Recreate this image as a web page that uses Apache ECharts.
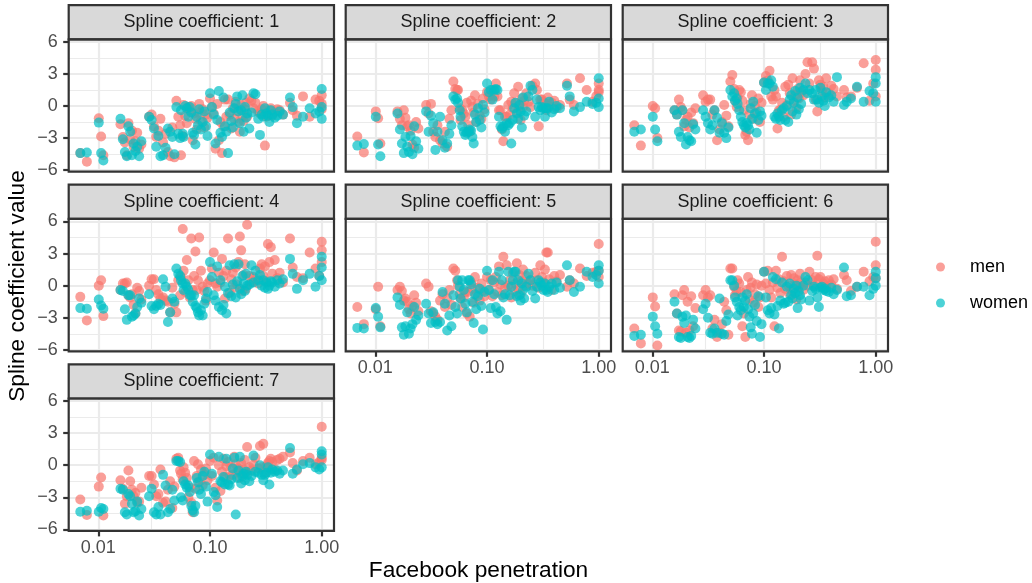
<!DOCTYPE html>
<html>
<head>
<meta charset="utf-8">
<script src="https://cdn.jsdelivr.net/npm/echarts@6/dist/echarts.min.js"></script>
<style>
  html, body { margin: 0; padding: 0; background: #ffffff; }
  #chart { width: 1032px; height: 583px; }
</style>
</head>
<body>
<div id="chart"></div>
<script>
// Facebook penetration of each region (shared by every panel)
const penetration = [
  0.0069, 0.0079,
  0.0101, 0.0106, 0.0111,
  0.0158, 0.0166, 0.0173, 0.018, 0.0186, 0.0193, 0.02, 0.0207, 0.0215, 0.0223, 0.0232, 0.0243,
  0.0285, 0.03, 0.0315, 0.033, 0.0345, 0.036, 0.038, 0.04, 0.042, 0.044, 0.046, 0.048,
  0.05, 0.052, 0.054, 0.055, 0.057, 0.058, 0.06, 0.062, 0.064, 0.066, 0.068, 0.07, 0.072, 0.074, 0.076, 0.078, 0.08, 0.083, 0.086, 0.089, 0.092, 0.095,
  0.1, 0.104, 0.108, 0.112, 0.116, 0.12, 0.124, 0.128, 0.132, 0.136, 0.14, 0.145, 0.15, 0.155, 0.16, 0.165, 0.17, 0.175, 0.18, 0.185, 0.19, 0.195, 0.2, 0.205, 0.21, 0.215,
  0.225, 0.235, 0.245, 0.255, 0.27, 0.28, 0.29, 0.3, 0.31, 0.32, 0.33, 0.34, 0.35, 0.36, 0.38, 0.4, 0.42, 0.45,
  0.52, 0.55, 0.6, 0.68, 0.78, 0.88, 0.95, 1, 1, 1
];

// Spline coefficient values, one array per coefficient and sex
const men1 = [
  -4.4, -5.2,
  -1.15, -2.85, -4.6,
  -1.7, -2.9, -3.4, -4.6, -1.6, -3.1, -2.3, -3.8, -3.3, -2.5, -4.0, -3.6,
  -1.0, -0.8, -1.9, -2.9, -2.3, -1.2, -3.4, -2.6, -4.3, -4.7, -2.0, -4.8,
  0.5, -1.0, -1.8, -4.6, -2.8, 0.1, -0.9, -1.6, -0.1, -0.4, 0.0, -3.2, -0.7, -1.2, -2.2, -0.6, 0.2, -1.4, -0.3, -2.0, -0.8, -1.1,
  0.7, -0.1, -0.7, -4.0, 0.2, -3.2, -1.5, -4.4, -1.9, 0.6, -1.0, 0.6, -0.8, -2.1, -0.2, -1.2, 0.4, -0.5, -1.5, -2.4, 0.1, -0.9, -1.4, -0.3, 0.3, -1.0,
  0.7, 0.5, -0.2, 0.3, -0.5, -0.7, -0.3, 0.0, -3.7, -1.0, -0.8, -0.4, -0.2, -0.9, -0.6, -0.3, -0.4, -0.8,
  0.3, -0.4, -0.9, 0.9, -1.0, 0.6, 0.5, -0.3, 1.0, 0.2
];
const women1 = [
  -4.4, -4.35,
  -1.55, -4.4, -5.1,
  -1.2, -3.1, -4.3, -4.7, -1.9, -2.4, -4.6, -3.5, -4.2, -3.8, -4.7, -3.3,
  -1.0, -1.3, -2.1, -3.8, -2.8, -4.7, -4.6, -3.9, -2.1, -2.4, -2.9, -4.5,
  -0.1, -2.6, -3.0, -0.4, -2.6, -2.9, 0.0, -0.2, -1.0, -0.1, -0.6, -2.5, -2.7, -3.6, -1.0, -1.8, -0.3, -2.2, -1.5, -0.5, -1.9, -2.8,
  1.2, -0.1, -0.8, -3.5, -1.3, 1.4, -2.5, -2.9, 0.8, -1.9, -2.4, -4.4, -0.6, -1.4, -2.0, -0.2, 0.2, 0.9, -0.5, -1.6, -0.4, 1.0, -2.4, -0.1, -1.1, -0.7,
  -2.1, -0.6, 1.2, 1.1, -1.2, -2.7, -0.8, -1.0, -0.2, -0.7, -0.9, -1.5, -0.4, -0.8, -1.1, -0.9, -0.5, -0.8,
  0.8, -0.1, -1.6, -1.0, -0.2, -0.7, -0.5, 1.6, -1.2, -0.1
];
const men2 = [
  -2.85, -4.35,
  -0.5, -1.15, -3.5,
  -0.5, -1.2, -1.8, -0.4, -1.1, -1.9, -1.8, -2.3, -3.6, -3.9, -1.5, -2.1,
  0.1, -0.7, 0.2, -2.4, -2.9, -1.8, -3.2, -3.5, -2.4, -3.8, -1.2, -0.4,
  2.3, 1.6, 1.5, 1.5, -0.2, -1.3, -0.4, -0.7, -1.0, 0.3, -1.8, -2.4, 0.5, -0.1, -0.6, 1.0, -1.5, 0.2, -0.9, -1.2, 0.7, -0.3,
  1.3, 0.9, 0.6, 1.5, 0.9, 2.1, 0.9, -0.4, -0.4, -2.2, -3.3, -1.0, -1.0, 0.1, -0.8, 0.4, -0.2, 1.2, 0.3, -0.6, 1.8, 0.0, -1.3, 0.7, -0.1, 0.5,
  1.2, 0.4, -0.1, 1.9, 2.1, 1.5, -1.9, 0.6, 0.6, 0.4, 0.2, -0.4, 0.8, 0.0, 0.3, 0.5, -0.2, 0.1,
  2.1, 0.6, 0.1, 2.6, 1.5, 0.4, 0.9, 1.3, 2.1, 1.5
];
const women2 = [
  -3.7, -3.55,
  -1.0, -3.6, -4.7,
  -0.7, -2.2, -3.5, -4.4, -2.9, -3.8, -4.3, -2.8, -4.5, -1.9, -3.3, -4.0,
  -0.5, -2.4, -0.9, -1.6, -4.1, -2.4, -1.0, -3.2, -3.9, -3.5, -2.6, -1.8,
  0.9, 0.6, 0.7, 0.3, -0.4, -1.0, -1.9, -2.4, -2.7, -2.5, -2.4, -2.2, -2.3, -2.9, -3.5, -0.8, -1.5, -0.2, -1.3, -2.0, 0.1, -0.6,
  2.1, 1.3, 1.5, 0.6, 1.5, 1.6, 1.5, -1.0, -1.9, -2.1, -1.9, -2.4, -1.6, -1.8, -1.6, -3.5, -1.3, -0.2, 0.3, -0.7, -1.2, 0.1, -0.5, -2.0, 0.8, -0.9,
  -0.5, 0.9, 1.9, 1.5, -1.0, 0.6, -0.1, -0.4, -0.1, -0.2, -1.0, -0.2, -0.2, 0.4, -0.6, -0.3, 0.0, -0.2,
  1.9, 0.9, -0.5, -0.1, 0.4, 0.2, 0.3, 2.6, 0.7, -0.1
];
const men3 = [
  -1.8, -3.7,
  0.0, -0.2, -3.0,
  -0.4, -0.8, 0.6, -0.1, -0.4, -1.9, -1.3, -1.0, -2.0, -0.6, -1.6, -0.2,
  1.0, 0.4, 0.6, 0.6, -0.8, -0.4, -3.2, -2.2, -1.5, 0.1, -0.9, -1.9,
  2.3, 2.9, 1.6, 0.5, -0.1, 0.8, 1.5, 1.3, 0.5, -0.4, -2.7, -2.4, -3.2, -0.8, 0.2, 1.0, -1.2, 0.0, -0.6, 0.7, -1.5, 0.3,
  2.2, 2.8, 2.4, 3.3, 0.9, 0.6, 1.5, 0.9, -2.1, -0.4, -0.4, 0.3, -1.0, 1.8, 0.1, 2.0, 1.2, -0.8, 2.6, 0.5, 1.0, -0.2, 1.6, 0.7, 2.4, 1.3,
  1.0, 3.0, 4.1, 2.1, 4.1, 3.5, 0.6, -0.5, 2.4, 2.0, 1.4, 1.8, 0.8, 2.6, 1.2, 1.9, 1.6, 0.9,
  1.5, 0.8, 0.9, 1.7, 4.0, 0.5, 2.1, 4.3, 3.4, 0.9
];
const women3 = [
  -2.4, -2.2,
  -1.0, -2.2, -3.3,
  -0.4, -0.8, -2.4, -2.9, -0.4, -1.6, -3.6, -2.9, -3.2, -3.3, -1.7, -2.2,
  -0.4, -1.0, -1.6, -2.2, -1.8, -0.4, -1.1, -2.5, -1.6, -2.5, -3.0, -2.0,
  1.5, 0.9, 1.2, 0.5, 0.7, 0.2, -0.4, -1.0, -1.5, -1.8, -2.0, -1.6, -1.8, -2.2, -0.2, -1.2, 0.4, -0.7, -2.5, -1.3, -0.5, -0.9,
  2.2, 1.5, 2.1, 2.1, 2.4, 1.8, -1.0, -1.2, -0.7, -1.0, -1.3, -0.4, -0.2, -1.3, 0.0, -1.5, 0.6, 1.0, -0.5, 0.3, 1.4, -0.8, 0.8, -0.3, 1.7, 0.2,
  1.5, 2.1, 1.2, 1.5, 1.2, 0.6, 1.5, 0.6, 0.3, 1.7, 0.9, 0.5, 0.0, 1.3, 0.8, 1.0, 0.4, 2.7,
  0.1, 0.4, 0.7, 1.8, 0.4, 1.4, 1.2, 2.7, 2.1, 0.4
];
const men4 = [
  -1.05, -3.25,
  0.0, 0.5, -2.85,
  -0.4, 0.2, 0.2, 0.3, -0.9, -1.1, -0.8, -1.8, -2.6, -0.2, -0.5, -1.3,
  0.0, 0.6, 0.6, -0.4, -0.8, -1.2, -1.1, -1.4, -1.5, -2.5, -0.2, -1.7,
  -2.5, 0.5, -0.9, 0.8, 5.3, 1.4, -0.6, 2.4, 0.5, -1.1, 4.4, -0.4, 0.9, 3.2, -0.4, 0.5, 4.5, 1.4, -0.1, -0.5, -1.4, 0.2,
  0.5, 1.6, 3.1, 0.2, -0.1, 1.2, 0.3, 2.5, 0.9, -1.2, 1.4, 4.4, -0.7, 0.6, 1.2, -0.2, 1.7, 0.1, 2.2, 4.6, 3.3, -0.5, 1.0, 2.0, -0.3, 5.7,
  0.9, 0.3, 0.8, 0.5, 0.2, 1.6, 2.0, 0.9, 1.8, 0.4, 3.9, 2.2, 3.6, 1.1, 2.4, 0.7, 1.2, 0.3,
  4.4, 1.7, 0.8, 0.7, 3.1, 1.6, 0.9, 4.1, 3.3, 2.2
];
const women4 = [
  -2.1, -2.15,
  -1.3, -1.85, -2.15,
  -0.4, -0.5, -2.2, -3.2, -0.9, -0.9, -2.9, -2.8, -2.6, -2.0, -1.2, -1.6,
  -0.8, -1.9, -2.2, -1.9, -1.7, -1.8, 0.6, -0.1, -3.4, -2.5, -1.2, -1.5,
  1.6, 1.1, 0.9, 0.5, 0.2, -0.4, 0.2, -0.1, -0.4, -0.9, -0.9, -1.5, -0.9, -1.9, -2.1, -2.5, -2.8, -2.3, -2.8, -1.7, -1.2, -0.6,
  2.2, 0.8, -0.9, -1.4, 1.8, -2.0, 0.5, -2.3, -1.8, -0.1, -2.6, -0.7, 1.9, -1.0, 0.1, 2.0, -1.1, 0.4, 2.0, -0.3, -0.8, 0.9, 0.2, -0.5, 1.1, 0.0,
  0.1, 1.9, 0.3, 1.4, 0.5, 1.0, 0.0, 0.5, -0.2, 0.3, -0.3, 0.0, 0.4, 0.3, -0.1, 0.5, 0.2, 0.6,
  2.5, 1.1, -0.3, 0.5, 1.1, -0.1, 0.9, 2.7, 1.7, 0.5
];
const men5 = [
  -2.0, -3.6,
  -2.2, -0.1, -3.8,
  -0.4, -0.1, -0.5, -1.4, -1.2, -1.5, -2.2, -2.6, -1.9, -0.9, -1.6, -2.4,
  0.2, -0.1, -2.4, -2.6, -2.9, -3.2, -1.4, -0.8, -2.0, -1.2, -0.4, -1.8,
  1.6, 1.4, 0.5, 0.0, -0.8, -1.2, -2.0, -1.1, -0.6, -2.6, -0.6, -2.9, 0.3, -0.3, -1.6, 0.8, -0.9, -0.2, -1.4, 0.2, -0.5, -1.0,
  0.8, -0.4, 0.5, -1.0, 0.3, 0.8, -0.6, 1.8, 0.1, -0.9, 2.7, -0.2, 1.9, 0.0, 0.5, -1.1, 1.2, -0.5, 0.2, 2.1, -0.3, 1.0, -0.8, 0.4, 1.5, 0.0,
  0.9, 0.2, 0.5, 0.0, 1.2, 0.5, -0.2, 1.9, 0.8, 0.3, 1.5, 3.1, 3.1, 0.6, -0.4, 0.9, 0.4, 1.0,
  -0.1, 0.5, 0.2, 1.6, 0.9, 1.2, 1.3, 3.9, 0.8, 1.4
];
const women5 = [
  -3.95, -4.0,
  -2.1, -2.9, -3.9,
  -1.1, -1.8, -3.9, -4.6, -3.8, -2.5, -4.5, -4.0, -3.6, -2.0, -3.2, -2.8,
  -1.7, -2.6, -3.5, -2.5, -3.4, -3.6, -3.4, -0.6, -1.7, -4.2, -2.8, -3.8,
  -0.9, -2.0, -2.6, 0.5, -0.1, -1.2, 0.5, -0.4, -1.7, -2.5, 0.5, 0.5, 0.1, -1.5, -3.5, -0.8, -2.2, -1.0, -0.3, -1.9, -4.1, -0.6,
  1.4, -0.4, -2.1, 0.5, -0.8, -2.0, -2.6, 1.3, -2.4, 0.5, -1.1, -0.8, -3.2, 1.3, -0.9, -0.1, 0.5, 1.3, 1.3, -1.0, 0.5, -0.9, -1.4, 0.2, -0.4, -1.2,
  -0.1, 1.1, 0.5, -0.5, -1.2, -0.1, 0.5, 0.3, 0.0, -0.4, 0.2, -0.4, -0.6, -0.1, 0.2, -0.4, 0.3, -0.2,
  1.9, 0.5, -0.6, -0.1, 1.3, 0.8, 1.0, 1.9, 0.2, 1.4
];
const men6 = [
  -4.0, -5.4,
  -1.1, -1.95, -5.6,
  -0.8, -2.6, -4.2, -4.3, -0.9, -0.4, -4.4, -1.5, -4.2, -1.0, -3.8, -2.1,
  -0.9, -0.4, -1.1, -0.9, -4.0, -3.2, -4.8, -4.4, -3.6, -1.5, -2.3, -4.6,
  1.6, 1.6, -0.1, -0.9, -0.5, 0.5, 0.2, -0.6, -3.8, -2.6, -4.8, -0.4, 0.8, -1.3, -0.2, 0.3, -1.6, -0.8, 0.1, -2.0, -1.1, 0.0,
  1.3, 0.2, 1.4, -0.4, -1.1, 0.3, -3.8, 1.4, -0.2, 0.6, -0.7, 2.7, 0.4, -0.3, 0.9, 0.0, -0.8, 1.0, -0.5, 0.7, 0.1, -1.3, 0.5, -0.1, 1.1, 0.3,
  -0.4, 0.3, 0.0, 1.3, 0.5, 0.0, 0.8, 2.8, 0.6, 0.8, -0.1, 0.2, 0.4, -0.2, 0.5, 0.1, 0.6, -0.3,
  1.0, 0.5, -0.5, -0.1, 1.3, 0.4, 0.8, 4.1, 1.9, 0.7
];
const women6 = [
  -4.7, -4.6,
  -2.9, -3.8, -4.5,
  -1.5, -2.6, -4.8, -4.9, -2.9, -3.5, -2.8, -4.8, -4.9, -4.7, -3.2, -4.0,
  -2.2, -1.7, -3.0, -4.4, -4.5, -4.0, -4.4, -1.2, -4.5, -4.6, -3.3, -2.7,
  0.5, 0.5, 0.0, -1.1, -1.5, -2.8, -2.0, -2.3, -1.1, -2.0, -1.4, -0.8, -2.2, -2.9, -3.9, -4.5, -2.6, -1.8, -3.3, -1.0, -4.8, -3.6,
  1.3, -1.1, -2.3, -2.6, -2.1, 0.8, -2.7, 0.6, -1.9, -4.0, -1.4, 0.3, -1.7, -1.6, -0.1, -1.5, 0.2, -0.9, -1.2, -0.3, -0.7, 0.0, -2.1, -0.5, -0.9, -1.3,
  0.0, 0.8, 0.5, -1.4, -0.5, -0.1, -0.3, -1.1, -2.0, -0.2, -0.1, -0.4, -0.3, -0.5, -0.6, -0.2, -0.8, -0.4,
  1.7, -1.0, -0.9, -0.1, -0.1, -0.9, -0.3, 1.3, 0.7, 0.0
];
const men7 = [
  -3.2, -4.65,
  -2.0, -1.15, -4.7,
  -1.4, -2.2, -3.6, -2.9, -0.5, -1.5, -2.3, -2.9, -2.6, -3.5, -3.4, -2.1,
  -1.0, -1.0, -1.8, -2.9, -2.7, -0.4, -3.5, -3.4, -2.3, -1.5, -4.0, -2.0,
  0.6, 0.7, -0.5, -0.8, -1.3, -0.2, -0.7, -1.2, -3.0, -2.1, -3.5, -4.4, 0.4, -2.2, -1.0, 0.1, -1.6, -0.4, -1.9, -0.9, -0.3, -1.4,
  0.4, -1.0, 0.7, -2.1, -3.3, 0.0, -2.4, -0.6, 0.6, -1.1, -0.1, 0.3, -1.0, -0.2, -0.9, 0.8, 0.1, -0.6, -0.3, -1.2, 0.2, -0.8, -0.4, 0.5, -0.7, 1.7,
  -0.2, -0.5, 0.1, 0.7, -0.3, 1.8, -0.2, 2.0, -0.7, -0.1, 0.2, 0.4, 0.6, 0.3, -0.4, 0.5, 0.6, 0.8,
  1.2, 0.2, -0.5, 0.4, 0.7, 0.1, 0.3, 3.6, 0.7, 0.5
];
const women7 = [
  -4.35, -4.25,
  -4.35, -4.0, -4.1,
  -2.2, -2.3, -4.4, -4.6, -2.7, -2.9, -3.6, -4.4, -4.3, -3.4, -4.7, -4.1,
  -2.9, -2.2, -4.4, -4.6, -3.9, -4.6, -0.9, -1.9, -4.4, -4.1, -2.3, -3.3,
  0.4, 0.4, 0.3, -3.0, -3.3, -1.5, -1.8, -2.1, -1.9, -2.5, -3.8, -4.2, -4.4, -3.8, -1.2, -1.6, -2.3, -2.7, -1.0, -0.6, -2.0, -3.4,
  1.0, -0.8, -2.5, -2.8, -3.9, 0.8, -1.5, -1.6, -1.1, -1.8, 0.6, -1.8, -1.9, -1.3, -0.3, 0.7, -4.6, -1.2, -0.5, 0.8, -1.7, -1.0, -0.8, -1.4, -0.6, -0.9,
  -1.5, -1.0, 0.9, -0.6, -0.7, 0.0, -0.9, -1.4, -0.9, -0.7, -0.2, -1.8, -0.7, -0.4, -0.6, -0.5, -0.8, -0.5,
  1.6, -0.8, -0.4, 0.1, 0.2, -0.2, -0.4, 1.3, 1.0, -0.2
];

const coefficients = ['1', '2', '3', '4', '5', '6', '7'];
const menValues = [men1, men2, men3, men4, men5, men6, men7];
const womenValues = [women1, women2, women3, women4, women5, women6, women7];
const sexes = ['men', 'women'];

// Axis breaks
const xTicks = [0.01, 0.1, 1];
const xMinorBreaks = [0.0316, 0.316];
const yTicks = [-6, -3, 0, 3, 6];

// Panel geometry and styling
const FONT = '"Liberation Sans", Arial, Helvetica, sans-serif';
const layout = { left0: 68.7, colPitch: 277, width: 265.3, top0: 39.3, rowPitch: 179.6, height: 132.4, strip: 34.2 };
const xRange = [0.005433, 1.288];
const yRange = [-6.14, 6.24];
const colors = { men: '#F8766D', women: '#00BFC4' };
const gridColor = '#EBEBEB';
const darkLine = '#333333';

const grids = [], xAxes = [], yAxes = [], series = [], graphics = [];

coefficients.forEach((coef, i) => {
  const row = Math.floor(i / 3), col = i % 3;
  const left = layout.left0 + col * layout.colPitch;
  const top = layout.top0 + row * layout.rowPitch;
  const showX = i >= 4;
  const showY = col === 0;

  grids.push({ left: left, top: top, width: layout.width, height: layout.height, containLabel: false, show: false, outerBoundsMode: 'none' });

  xAxes.push({
    gridIndex: i, type: 'log', logBase: 10, min: xRange[0], max: xRange[1], position: 'bottom',
    axisLine: { show: false, onZero: false },
    axisTick: { show: showX, customValues: xTicks, length: 5.5, lineStyle: { color: darkLine, width: 2.2 } },
    axisLabel: {
      show: showX, customValues: xTicks, margin: 8,
      formatter: v => Number(v).toFixed(2),
      color: '#4D4D4D', fontSize: 18, fontFamily: FONT
    },
    splitLine: { show: true, lineStyle: { color: gridColor, width: 2.2 } }
  });

  yAxes.push({
    gridIndex: i, type: 'value', min: yRange[0], max: yRange[1], splitNumber: 4, position: 'left',
    axisLine: { show: false, onZero: false },
    axisTick: { show: showY, customValues: yTicks, length: 5.5, lineStyle: { color: darkLine, width: 2.2 } },
    axisLabel: {
      show: showY, customValues: yTicks, margin: 11,
      formatter: v => String(v).replace('-', '\u2212'),
      color: '#4D4D4D', fontSize: 18, fontFamily: FONT
    },
    splitLine: { show: true, lineStyle: { color: gridColor, width: 2.2 } },
    minorTick: { show: false, splitNumber: 2 },
    minorSplitLine: { show: true, lineStyle: { color: gridColor, width: 1.1 } }
  });

  const values = { men: menValues[i], women: womenValues[i] };
  sexes.forEach((sex, s) => {
    const item = {
      type: 'scatter', name: sex, xAxisIndex: i, yAxisIndex: i,
      data: penetration.map((x, j) => [x, values[sex][j]]),
      symbolSize: 10, z: 2, silent: true,
      itemStyle: { color: colors[sex], opacity: 0.7 }
    };
    if (s === 0) {
      // half-decade minor gridlines on the log axis
      item.markLine = {
        silent: true, z: 1, symbol: ['none', 'none'], animation: false,
        label: { show: false }, emphasis: { disabled: true },
        lineStyle: { color: gridColor, width: 1.1, type: 'solid' },
        data: xMinorBreaks.map(v => ({ xAxis: v }))
      };
    }
    series.push(item);
  });

  // facet strip
  graphics.push({
    type: 'rect', z: 50, silent: true,
    shape: { x: left, y: top - layout.strip, width: layout.width, height: layout.strip },
    style: { fill: '#D9D9D9', stroke: darkLine, lineWidth: 2.2 }
  });
  graphics.push({
    type: 'text', z: 51, silent: true,
    x: left + layout.width / 2, y: top - layout.strip / 2,
    style: { text: 'Spline coefficient: ' + coef, fill: '#1A1A1A', fontSize: 18, fontFamily: FONT, align: 'center', verticalAlign: 'middle' }
  });
  // panel border
  graphics.push({
    type: 'rect', z: 100, silent: true,
    shape: { x: left, y: top, width: layout.width, height: layout.height },
    style: { fill: 'none', stroke: darkLine, lineWidth: 2.2 }
  });
});

// axis titles
graphics.push({
  type: 'text', silent: true, x: 478.5, y: 571,
  style: { text: 'Facebook penetration', fill: '#000000', fontSize: 22.7, fontFamily: FONT, align: 'center', verticalAlign: 'middle' }
});
graphics.push({
  type: 'text', silent: true, x: 18, y: 286, rotation: Math.PI / 2,
  style: { text: 'Spline coefficient value', fill: '#000000', fontSize: 22.7, fontFamily: FONT, align: 'center', verticalAlign: 'middle' }
});

const chart = echarts.init(document.getElementById('chart'), null, { renderer: 'canvas' });
chart.setOption({
  animation: false,
  backgroundColor: '#ffffff',
  grid: grids,
  xAxis: xAxes,
  yAxis: yAxes,
  legend: {
    orient: 'vertical', left: 936, top: 258, padding: 0, itemWidth: 9, itemHeight: 9, itemGap: 18,
    icon: 'circle', data: sexes, selectedMode: false,
    textStyle: { fontSize: 18, fontFamily: FONT, color: '#000000', lineHeight: 18, padding: [0, 0, 0, 20] }
  },
  series: series,
  graphic: { elements: graphics }
});
</script>
</body>
</html>
